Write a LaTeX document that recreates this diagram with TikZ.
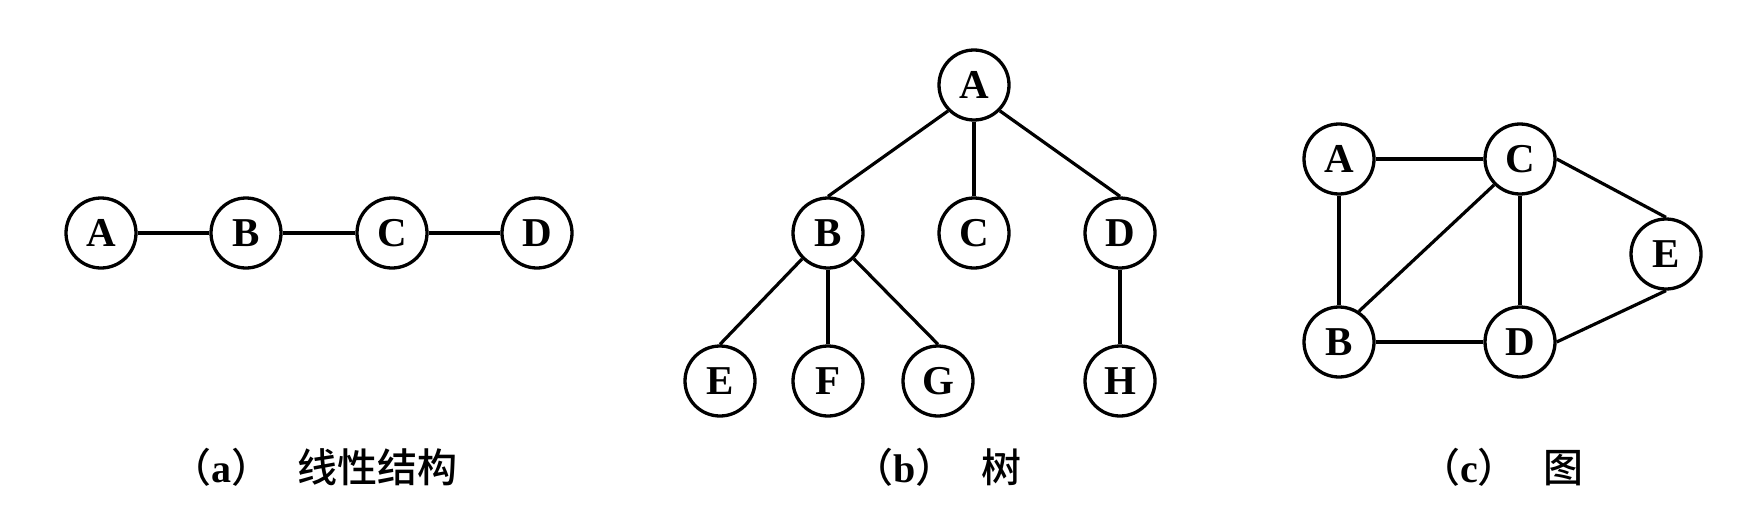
\documentclass[tikz,border=0pt]{standalone}
\usepackage{fontspec}
\setmainfont{Liberation Serif}
\newfontfamily\cjk{Noto Sans CJK SC}[UprightFont=* Medium]
\begin{document}
\begin{tikzpicture}[x=1pt,y=-1pt,
  vtx/.style={circle,draw=black,line width=3.3pt,minimum size=70pt,inner sep=0pt,
    font=\fontsize{41}{41}\selectfont\bfseries},
  edge/.style={line width=3.2pt},
  captxt/.style={anchor=base west,inner sep=0pt,font=\fontsize{40}{40}\selectfont}]
\useasboundingbox (0,0) rectangle (1744,514);
% (a) linear
\node[vtx] (a1) at (101,233) {A};
\node[vtx] (b1) at (246,233) {B};
\node[vtx] (c1) at (392,233) {C};
\node[vtx] (d1) at (537,233) {D};
\draw[edge] (a1) -- (b1);
\draw[edge] (b1) -- (c1);
\draw[edge] (c1) -- (d1);
% (b) tree
\node[vtx] (ta) at (974,85) {A};
\node[vtx] (tb) at (828,233) {B};
\node[vtx] (tc) at (974,233) {C};
\node[vtx] (td) at (1120,233) {D};
\node[vtx] (te) at (720,381) {E};
\node[vtx] (tf) at (828,381) {F};
\node[vtx] (tg) at (938,381) {G};
\node[vtx] (th) at (1120,381) {H};
\draw[edge] (ta.south west) -- (tb.north);
\draw[edge] (ta.south) -- (tc.north);
\draw[edge] (ta.south east) -- (td.north);
\draw[edge] (tb.south west) -- (te.north);
\draw[edge] (tb.south) -- (tf.north);
\draw[edge] (tb.south east) -- (tg.north);
\draw[edge] (td.south) -- (th.north);
% (c) graph
\node[vtx] (ga) at (1339,159) {A};
\node[vtx] (gc) at (1520,159) {C};
\node[vtx] (ge) at (1666,254) {E};
\node[vtx] (gb) at (1339,342) {B};
\node[vtx] (gd) at (1520,342) {D};
\draw[edge] (ga) -- (gc);
\draw[edge] (ga) -- (gb);
\draw[edge] (gb.57) -- (gc.south west);
\draw[edge] (gc) -- (gd);
\draw[edge] (gb) -- (gd);
\draw[edge] (gc.east) -- (ge.north);
\draw[edge] (gd.east) -- (ge.south);
% captions
\node[captxt] (capa) at (171,482) {{\cjk （}\textbf{a}{\cjk ）}\hspace{26pt}{\cjk 线性结构}};
\node[captxt] (capb) at (853,482) {{\cjk （}\textbf{b}{\cjk ）}\hspace{26pt}{\cjk 树}};
\node[captxt] (capc) at (1420,482) {{\cjk （}\textbf{c}{\cjk ）}\hspace{26pt}{\cjk 图}};
\end{tikzpicture}
\end{document}
